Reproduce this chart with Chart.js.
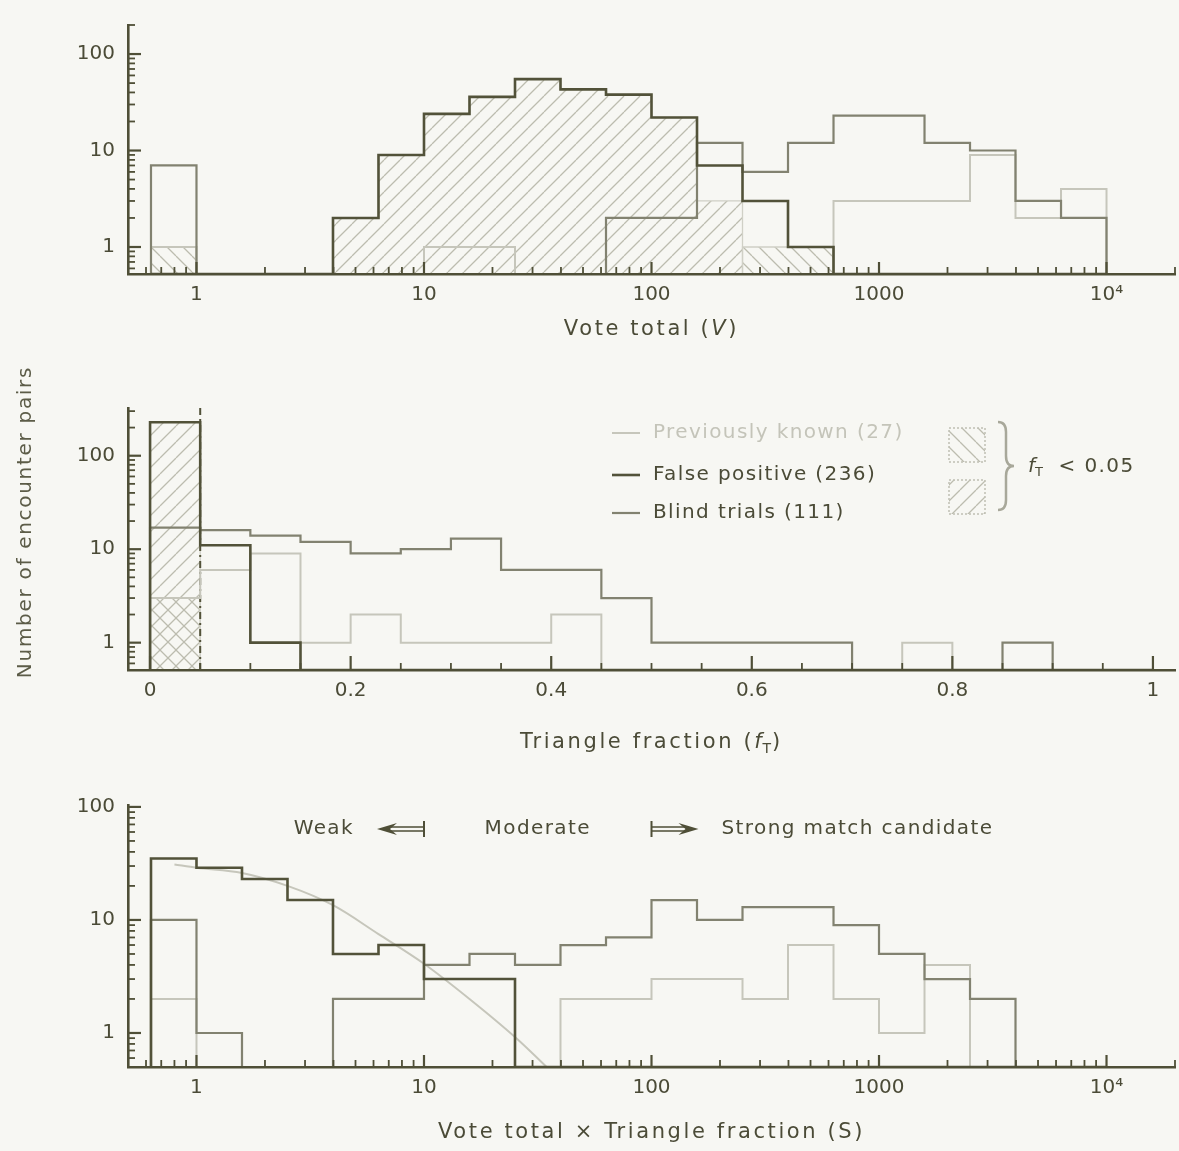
<!DOCTYPE html>
<html>
<head>
<meta charset="utf-8">
<script src="https://cdn.jsdelivr.net/npm/chart.js@4.4.1/dist/chart.umd.min.js"></script>
<style>
  html, body { margin: 0; padding: 0; background: #f7f7f3; }
  #wrap { position: relative; width: 1179px; height: 1151px; overflow: hidden; background: #f7f7f3; }
  .pane { position: absolute; left: 0; width: 1179px; }
  .pane canvas { display: block; }
</style>
</head>
<body>
<div id="wrap">
  <div class="pane" style="top:0px;height:340px"><canvas id="cVote"></canvas></div>
  <div class="pane" style="top:330px;height:450px"><canvas id="cFrac"></canvas></div>
  <div class="pane" style="top:780px;height:371px"><canvas id="cScore"></canvas></div>
</div>
<script>
// ================= DATA =================
// logarithmic bins (5 per decade) used for V and S histograms: bin edges
const logBinEdges = [0.631, 1, 1.585, 2.512, 3.981, 6.310, 10, 15.85, 25.12, 39.81, 63.10,
                     100, 158.5, 251.2, 398.1, 631.0, 1000, 1585, 2512, 3981, 6310, 10000];
// triangle fraction bins (width 0.05): bin edges
const fracBinEdges = [0, 0.05, 0.10, 0.15, 0.20, 0.25, 0.30, 0.35, 0.40, 0.45, 0.50,
                      0.55, 0.60, 0.65, 0.70, 0.75, 0.80, 0.85, 0.90, 0.95, 1.00];

const seriesLabels = ['Previously known (27)', 'False positive (236)', 'Blind trials (111)'];
const cutLabel = '< 0.05';
const fracCut = 0.05;

// ---- Panel 1: Vote total (V) ----
const voteKnown         = [1,0,0,0,0,0,1,1,0,0,0,0,0,0,0,3,3,3,9,2,4];
const voteFalsePositive = [0,0,0,0,2,9,24,36,55,43,38,22,7,3,1,0,0,0,0,0,0];
const voteBlind         = [7,0,0,0,0,0,0,0,0,0,2,2,12,6,12,23,23,12,10,3,2];
const voteFalsePosLowF  = [0,0,0,0,2,9,24,36,55,43,38,22,3,0,0,0,0,0,0,0,0];
const voteKnownLowF     = [1,0,0,0,0,0,0,0,0,0,0,0,0,1,1,0,0,0,0,0,0];

// ---- Panel 2: Triangle fraction (f_T) ----
const fracKnown         = [3,6,9,1,2,1,1,1,2,0,0,0,0,0,0,1,0,0,0,0];
const fracFalsePositive = [228,11,1,0,0,0,0,0,0,0,0,0,0,0,0,0,0,0,0,0];
const fracBlind         = [17,16,14,12,9,10,13,6,6,3,1,1,1,1,0,0,0,1,0,0];
const fracFalsePosLowF  = [228,0,0,0,0,0,0,0,0,0,0,0,0,0,0,0,0,0,0,0];
const fracKnownLowF     = [3,0,0,0,0,0,0,0,0,0,0,0,0,0,0,0,0,0,0,0];

// ---- Panel 3: Vote total x Triangle fraction (S) ----
const scoreKnown         = [2,0,0,0,0,0,0,0,0,2,2,3,3,2,6,2,1,4,0,0,0];
const scoreFalsePositive = [35,29,23,15,5,6,3,3,0,0,0,0,0,0,0,0,0,0,0,0,0];
const scoreBlind         = [10,1,0,0,2,2,4,5,4,6,7,15,10,13,13,9,5,3,2,0,0];
const modelScore  = [0.8, 1, 1.585, 2.512, 3.981, 6.31, 10, 15.85, 25.12, 39.81];
const modelCounts = [31, 29, 26, 20, 13.5, 7.5, 4.1, 2.0, 0.92, 0.38];
const zoneLabels = ['Weak', 'Moderate', 'Strong match candidate'];
const zoneLimits = [10, 100];

// ---- tick labels ----
const logTickValues = [1, 10, 100, 1000, 10000];
const logTickText   = ['1', '10', '100', '1000', '10\u2074'];
const fracTickValues = [0, 0.2, 0.4, 0.6, 0.8, 1];
const fracTickText   = ['0', '0.2', '0.4', '0.6', '0.8', '1'];
const countTickValues = [1, 10, 100];
const countTickText   = ['1', '10', '100'];

// ================= STYLE =================
const FONT = 'DejaVu Sans';
const DARK = '#525239';
const MED = '#828270';
const LIGHT = '#c6c6bb';
const AXIS = '#4f4f37';
const TEXT = '#4b4b37';
const HATCH = '#bcbcaf';
Chart.defaults.font.family = FONT;

function makeHatch(forward) {
  const size = 16;
  const c = document.createElement('canvas');
  c.width = size; c.height = size;
  const g = c.getContext('2d');
  g.strokeStyle = HATCH; g.lineWidth = 1.3;
  g.beginPath();
  for (let k = -1; k <= 1; k++) {
    if (forward) { g.moveTo(k * size, size); g.lineTo(k * size + size, 0); }
    else { g.moveTo(k * size, 0); g.lineTo(k * size + size, size); }
  }
  g.stroke();
  return g.createPattern(c, 'repeat');
}
const hatchFwd = makeHatch(true);
const hatchBack = makeHatch(false);

// histogram outline as step points: values from the count arrays, zero counts sit on the axis floor
function stepPoints(edges, counts, floor) {
  const pts = [{ x: edges[0], y: floor }];
  counts.forEach((c, i) => pts.push({ x: edges[i], y: c > 0 ? c : floor }));
  pts.push({ x: edges[edges.length - 1], y: floor });
  return pts;
}

function histLine(label, edges, counts, floor, color, width) {
  return { label, data: stepPoints(edges, counts, floor), stepped: true, borderColor: color,
           borderWidth: width, pointRadius: 0, fill: false };
}
function hatchArea(label, edges, counts, floor, pattern) {
  return { label, data: stepPoints(edges, counts, floor), stepped: true, borderColor: '#d0d0c6',
           borderWidth: 1.3, pointRadius: 0, fill: 'start', backgroundColor: pattern };
}

function logMinorValues(min, max) {
  const out = [];
  for (let e = Math.floor(Math.log10(min)); e <= Math.ceil(Math.log10(max)); e++) {
    for (let m = 1; m <= 9; m++) {
      const v = m * Math.pow(10, e);
      if (v >= min * 0.9999 && v <= max * 1.0001) out.push({ v, major: m === 1 });
    }
  }
  return out;
}

const innerTicks = {
  id: 'innerTicks',
  afterDraw(chart, args, opts) {
    const { ctx, chartArea: a, scales: { x, y } } = chart;
    ctx.save();
    ctx.strokeStyle = AXIS;
    let xs;
    if (x.type === 'logarithmic') xs = logMinorValues(x.min, x.max);
    else { xs = []; for (let i = 0; i <= 20; i++) { const v = i * 0.05; xs.push({ v, major: i % 4 === 0 }); } }
    xs.forEach(t => {
      const px = x.getPixelForValue(t.v);
      if (px < a.left + 1 || px > a.right + 0.5) return;
      const len = t.major ? opts.xMajor : opts.xMinor;
      ctx.lineWidth = t.major ? 2.2 : 1.8;
      ctx.beginPath(); ctx.moveTo(px, a.bottom); ctx.lineTo(px, a.bottom - len); ctx.stroke();
    });
    logMinorValues(y.min, y.max).forEach(t => {
      const py = y.getPixelForValue(t.v);
      if (py > a.bottom - 1 || py < a.top - 0.5) return;
      const len = t.major ? 13 : 7;
      ctx.lineWidth = t.major ? 2.2 : 1.8;
      ctx.beginPath(); ctx.moveTo(a.left, py); ctx.lineTo(a.left + len, py); ctx.stroke();
    });
    ctx.restore();
  }
};

function drawRich(ctx, parts, cx, cy, align) {
  ctx.save();
  ctx.textBaseline = 'middle';
  ctx.textAlign = 'left';
  let total = 0;
  parts.forEach(p => {
    ctx.font = p.font; ctx.letterSpacing = p.ls || '0px';
    p.w = ctx.measureText(p.text).width; total += p.w;
  });
  let x = align === 'left' ? cx : (align === 'right' ? cx - total : cx - total / 2);
  parts.forEach(p => {
    ctx.font = p.font; ctx.letterSpacing = p.ls || '0px';
    ctx.fillStyle = p.color || TEXT;
    ctx.fillText(p.text, x, cy + (p.dy || 0));
    x += p.w;
  });
  ctx.restore();
}

const TF = '21px "DejaVu Sans"';
const TFI = 'italic 21px "DejaVu Sans"';
const LF = '20px "DejaVu Sans"';
const LFI = 'italic 20px "DejaVu Sans"';

function baseOptions(cfg) {
  return {
    responsive: true, maintainAspectRatio: false, animation: false, devicePixelRatio: 1,
    events: [],
    layout: { padding: { top: cfg.padTop, left: 0, right: 4, bottom: 0 } },
    plugins: { legend: { display: false }, tooltip: { enabled: false }, title: { display: false },
               innerTicks: { xMajor: cfg.xMajor, xMinor: cfg.xMinor } },
    scales: {
      x: {
        type: cfg.xType, min: cfg.xMin, max: cfg.xMax, position: 'bottom',
        grid: { display: false, drawTicks: false },
        border: { display: true, color: AXIS, width: 2.6, z: 1 },
        ticks: { autoSkip: false, maxRotation: 0, minRotation: 0, padding: 9, color: TEXT,
                 font: { family: FONT, size: 20 },
                 callback: (v) => { const i = cfg.xTicks.indexOf(v); return i >= 0 ? cfg.xTickText[i] : ''; } },
        afterBuildTicks: s => { s.ticks = cfg.xTicks.map(v => ({ value: v })); },
        afterFit: s => { s.height = cfg.xHeight; }
      },
      y: {
        type: 'logarithmic', min: cfg.yMin, max: cfg.yMax,
        grid: { display: false, drawTicks: false },
        border: { display: true, color: AXIS, width: 2.6, z: 1 },
        ticks: { autoSkip: false, padding: 13, color: TEXT, font: { family: FONT, size: 20 },
                 callback: (v) => { const i = countTickValues.indexOf(v); return i >= 0 ? countTickText[i] : ''; } },
        afterBuildTicks: s => { s.ticks = countTickValues.map(v => ({ value: v })); },
        afterFit: s => { s.width = 128; }
      }
    }
  };
}

// ================= PANEL 1 =================
const yTop = [0.525, 200];
const xLog = [0.5, 20000];
new Chart(document.getElementById('cVote'), {
  type: 'line',
  data: { datasets: [
    histLine(seriesLabels[1], logBinEdges, voteFalsePositive, yTop[0], DARK, 2.6),
    histLine(seriesLabels[2], logBinEdges, voteBlind, yTop[0], MED, 2.2),
    histLine(seriesLabels[0], logBinEdges, voteKnown, yTop[0], LIGHT, 2.0),
    hatchArea('False positive, f_T < 0.05', logBinEdges, voteFalsePosLowF, yTop[0], hatchFwd),
    hatchArea('Previously known, f_T < 0.05', logBinEdges, voteKnownLowF, yTop[0], hatchBack)
  ] },
  options: baseOptions({ padTop: 14, xType: 'logarithmic', xMin: xLog[0], xMax: xLog[1],
    xTicks: logTickValues, xTickText: logTickText, yMin: yTop[0], yMax: yTop[1], xHeight: 66, xMajor: 12, xMinor: 7 }),
  plugins: [innerTicks, {
    id: 'titles1',
    afterDraw(chart) {
      const a = chart.chartArea;
      drawRich(chart.ctx, [
        { text: 'Vote total (', font: TF, ls: '2.6px' },
        { text: 'V', font: TFI, ls: '2.6px' },
        { text: ')', font: TF, ls: '2.6px' }
      ], (a.left + a.right) / 2, 330, 'center');
    }
  }]
});

// ================= PANEL 2 =================
const yMid = [0.51, 324];
const xFrac = [-0.022, 1.022];
new Chart(document.getElementById('cFrac'), {
  type: 'line',
  data: { datasets: [
    histLine(seriesLabels[1], fracBinEdges, fracFalsePositive, yMid[0], DARK, 2.6),
    histLine(seriesLabels[2], fracBinEdges, fracBlind, yMid[0], MED, 2.2),
    histLine(seriesLabels[0], fracBinEdges, fracKnown, yMid[0], LIGHT, 2.0),
    { label: 'cut', data: [{ x: fracCut, y: yMid[0] }, { x: fracCut, y: yMid[1] }], borderColor: DARK,
      borderWidth: 2, borderDash: [7, 4, 2, 4], pointRadius: 0, fill: false },
    hatchArea('False positive, f_T < 0.05', fracBinEdges, fracFalsePosLowF, yMid[0], hatchFwd),
    hatchArea('Previously known, f_T < 0.05', fracBinEdges, fracKnownLowF, yMid[0], hatchBack)
  ] },
  options: baseOptions({ padTop: 78, xType: 'linear', xMin: xFrac[0], xMax: xFrac[1],
    xTicks: fracTickValues, xTickText: fracTickText, yMin: yMid[0], yMax: yMid[1], xHeight: 110, xMajor: 14, xMinor: 7 }),
  plugins: [innerTicks, {
    id: 'titles2',
    afterDraw(chart) {
      const ctx = chart.ctx, a = chart.chartArea;
      drawRich(ctx, [
        { text: 'Triangle fraction (', font: TF, ls: '2.6px' },
        { text: 'f', font: TFI, ls: '1px' },
        { text: 'T', font: '14px "DejaVu Sans"', dy: 6, ls: '1px' },
        { text: ')', font: TF, ls: '2.6px' }
      ], (a.left + a.right) / 2, 413, 'center');
      ctx.save();
      ctx.translate(26, 192);
      ctx.rotate(-Math.PI / 2);
      drawRich(ctx, [{ text: 'Number of encounter pairs', font: LF, ls: '1.7px', color: '#5c5c48' }], 0, 0, 'center');
      ctx.restore();
      const rows = [
        { y: 103, color: LIGHT, w: 2.0, text: seriesLabels[0], tc: '#c4c4b9' },
        { y: 145, color: DARK, w: 2.6, text: seriesLabels[1], tc: TEXT },
        { y: 183, color: MED, w: 2.2, text: seriesLabels[2], tc: TEXT }
      ];
      rows.forEach(r => {
        ctx.save();
        ctx.strokeStyle = r.color; ctx.lineWidth = r.w;
        ctx.beginPath(); ctx.moveTo(612, r.y); ctx.lineTo(640, r.y); ctx.stroke();
        ctx.restore();
        drawRich(ctx, [{ text: r.text, font: LF, ls: '1.4px', color: r.tc }], 653, r.y, 'left');
      });
      ctx.save();
      [[98, hatchBack], [150, hatchFwd]].forEach(([yy, pat]) => {
        ctx.fillStyle = pat; ctx.fillRect(949, yy, 36, 34);
        ctx.setLineDash([2, 2]); ctx.strokeStyle = '#c0c0b4'; ctx.lineWidth = 1.5;
        ctx.strokeRect(949, yy, 36, 34);
      });
      ctx.setLineDash([]);
      ctx.strokeStyle = '#a8a89a'; ctx.lineWidth = 2.5;
      ctx.beginPath();
      ctx.moveTo(998, 92); ctx.quadraticCurveTo(1006, 92, 1006, 102); ctx.lineTo(1006, 126);
      ctx.quadraticCurveTo(1006, 136, 1014, 136); ctx.quadraticCurveTo(1006, 136, 1006, 146);
      ctx.lineTo(1006, 170); ctx.quadraticCurveTo(1006, 180, 998, 180);
      ctx.stroke();
      ctx.restore();
      drawRich(ctx, [
        { text: 'f', font: LFI },
        { text: 'T', font: '13px "DejaVu Sans"', dy: 6 },
        { text: '  ' + cutLabel, font: LF, ls: '1.4px' }
      ], 1028, 137, 'left');
    }
  }]
});

// ================= PANEL 3 =================
const yBot = [0.5, 104];
new Chart(document.getElementById('cScore'), {
  type: 'line',
  data: { datasets: [
    histLine(seriesLabels[1], logBinEdges, scoreFalsePositive, yBot[0], DARK, 2.6),
    histLine(seriesLabels[2], logBinEdges, scoreBlind, yBot[0], MED, 2.2),
    histLine(seriesLabels[0], logBinEdges, scoreKnown, yBot[0], LIGHT, 2.0),
    { label: 'model', data: modelScore.map((s, i) => ({ x: s, y: modelCounts[i] })), borderColor: LIGHT,
      borderWidth: 2, pointRadius: 0, fill: false, cubicInterpolationMode: 'monotone' }
  ] },
  options: baseOptions({ padTop: 23, xType: 'logarithmic', xMin: xLog[0], xMax: xLog[1],
    xTicks: logTickValues, xTickText: logTickText, yMin: yBot[0], yMax: yBot[1], xHeight: 84, xMajor: 12, xMinor: 7 }),
  plugins: [innerTicks, {
    id: 'titles3',
    afterDraw(chart) {
      const ctx = chart.ctx, a = chart.chartArea, x = chart.scales.x;
      drawRich(ctx, [{ text: 'Vote total \u00d7 Triangle fraction (S)', font: TF, ls: '2.6px' }],
        (a.left + a.right) / 2, 353, 'center');
      const yA = 49;
      const xWeak = x.getPixelForValue(zoneLimits[0]);
      const xStrong = x.getPixelForValue(zoneLimits[1]);
      ctx.save();
      ctx.strokeStyle = AXIS; ctx.fillStyle = AXIS; ctx.lineWidth = 2;
      function arrow(xBar, dir) {
        const xHead = xBar + dir * 47;
        ctx.beginPath(); ctx.moveTo(xBar, yA - 8); ctx.lineTo(xBar, yA + 8); ctx.stroke();
        ctx.lineWidth = 1.5;
        ctx.beginPath();
        ctx.moveTo(xBar, yA - 2); ctx.lineTo(xHead - dir * 10, yA - 2);
        ctx.moveTo(xBar, yA + 2); ctx.lineTo(xHead - dir * 10, yA + 2);
        ctx.stroke();
        ctx.beginPath(); ctx.moveTo(xHead, yA); ctx.lineTo(xHead - dir * 20, yA - 6);
        ctx.lineTo(xHead - dir * 13, yA); ctx.lineTo(xHead - dir * 20, yA + 6); ctx.closePath(); ctx.fill();
        ctx.lineWidth = 2;
        return xHead;
      }
      const hl = arrow(xWeak, -1);
      const hr = arrow(xStrong, 1);
      ctx.restore();
      drawRich(ctx, [{ text: zoneLabels[0], font: LF, ls: '1.4px' }], hl - 23, yA, 'right');
      drawRich(ctx, [{ text: zoneLabels[1], font: LF, ls: '1.4px' }], (xWeak + xStrong) / 2, yA, 'center');
      drawRich(ctx, [{ text: zoneLabels[2], font: LF, ls: '1.4px' }], hr + 23, yA, 'left');
    }
  }]
});
</script>
</body>
</html>
